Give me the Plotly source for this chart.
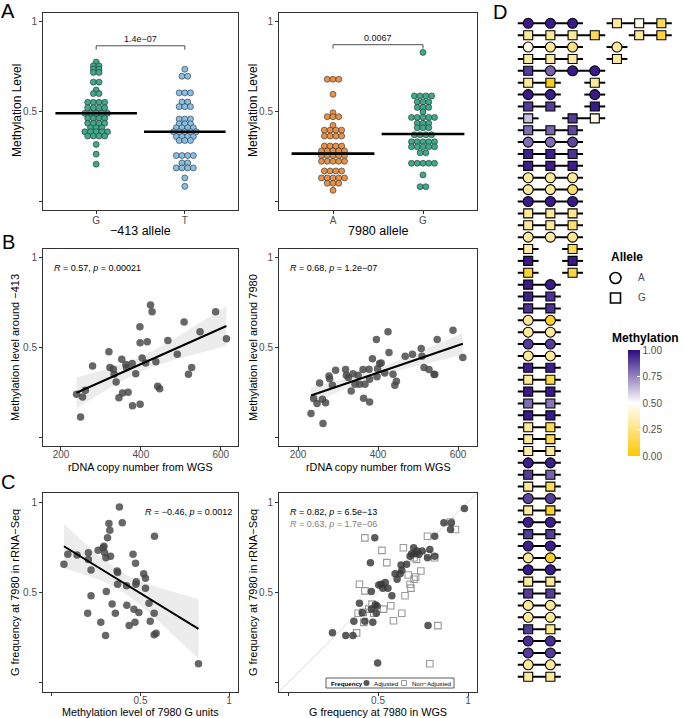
import numpy as np
import plotly.graph_objects as go

W, H = 684, 718
FONT = "Liberation Sans, Arial, Helvetica, sans-serif"
TICK_GRAY = "#4d4d4d"
FRAME = "#333333"


def fx(p):
    return p / W


def fy(p):
    return 1 - p / H


# ======================= DATA =======================
# ---- Panel A : dot plots (one value per dot) ----
a_left_groups = ["G", "T"]
meth_413_G = [0.776, 0.755, 0.755, 0.736, 0.736, 0.718, 0.718, 0.664, 0.664, 0.62,
              0.60, 0.60, 0.551, 0.551, 0.551, 0.551, 0.521, 0.521, 0.521, 0.521,
              0.49, 0.49, 0.49, 0.49, 0.49, 0.462, 0.462, 0.462, 0.462,
              0.434, 0.434, 0.434, 0.434, 0.409, 0.409, 0.409,
              0.387, 0.387, 0.387, 0.387, 0.387, 0.363, 0.363, 0.363, 0.363,
              0.316, 0.262, 0.206]
meth_413_T = [0.736, 0.697, 0.697, 0.604, 0.604, 0.604, 0.553, 0.553, 0.527, 0.527, 0.527,
              0.458, 0.458, 0.458, 0.431, 0.431, 0.431, 0.409, 0.409, 0.409, 0.409,
              0.387, 0.387, 0.387, 0.387, 0.387, 0.36, 0.36, 0.36, 0.36,
              0.338, 0.338, 0.338, 0.254, 0.254, 0.254, 0.254, 0.213, 0.213,
              0.185, 0.185, 0.185, 0.185, 0.129, 0.082]
a_right_groups = ["A", "G"]
meth_7980_A = [0.68, 0.68, 0.68, 0.596, 0.493, 0.471, 0.471, 0.471, 0.422,
               0.396, 0.396, 0.396, 0.396, 0.363, 0.363, 0.363, 0.363,
               0.307, 0.307, 0.307, 0.307, 0.28, 0.28, 0.28, 0.28, 0.28,
               0.254, 0.254, 0.254, 0.254, 0.254, 0.222, 0.222, 0.222, 0.222, 0.222,
               0.168, 0.168, 0.168, 0.168, 0.129, 0.129, 0.129, 0.129, 0.129,
               0.099, 0.099, 0.099, 0.06]
meth_7980_G = [0.83, 0.587, 0.587, 0.587, 0.587, 0.553, 0.553, 0.553, 0.523, 0.523, 0.523,
               0.497, 0.467, 0.467, 0.467, 0.467, 0.467, 0.434, 0.434, 0.434,
               0.409, 0.409, 0.409, 0.37, 0.37, 0.37, 0.37,
               0.331, 0.331, 0.331, 0.331, 0.331, 0.303, 0.303, 0.303, 0.303, 0.303,
               0.269, 0.269, 0.211, 0.211, 0.211, 0.211, 0.211, 0.146, 0.08, 0.08]
a_medians_left = [0.49, 0.387]
a_medians_right = [0.265, 0.374]
a_pvalues = ["1.4e\u221207", "0.0067"]
a_bracket_y = [0.867, 0.873]

# ---- Panel B : copy number vs methylation ----
b1_copy = [239, 254, 261, 249, 279, 320, 322.5, 331, 333, 338, 345, 352, 354, 362.5, 364,
           368, 378, 379, 387, 397.5, 398, 398, 403, 412, 416, 424, 428, 437.5, 442, 447,
           467.5, 491, 508, 527, 519, 548, 587, 614]
b1_meth = [0.239, 0.224, 0.261, 0.112, 0.397, 0.476, 0.388, 0.379, 0.351, 0.308, 0.22,
           0.435, 0.246, 0.405, 0.388, 0.25, 0.41, 0.175, 0.354, 0.616, 0.183, 0.526,
           0.442, 0.414, 0.532, 0.737, 0.7, 0.42, 0.284, 0.269, 0.539, 0.463, 0.642,
           0.388, 0.351, 0.588, 0.7, 0.549]
b2_copy = [232.5, 239, 247.5, 254, 261, 262.5, 269, 277.5, 279, 286, 294, 319, 321, 326,
           333, 337.5, 342.5, 350, 354, 362.5, 364, 367.5, 377.5, 379, 379, 386, 396,
           397.5, 399, 404, 408, 417, 425, 427.5, 437.5, 442, 446, 468, 486, 508, 510,
           515, 527.5, 540, 542, 548, 587.5, 612]
b2_meth = [0.131, 0.215, 0.187, 0.302, 0.211, 0.075, 0.192, 0.341, 0.326, 0.289, 0.373,
           0.377, 0.345, 0.332, 0.257, 0.354, 0.295, 0.345, 0.295, 0.377, 0.216, 0.295,
           0.379, 0.196, 0.323, 0.437, 0.545, 0.336, 0.382, 0.41, 0.414, 0.358, 0.588,
           0.472, 0.351, 0.289, 0.312, 0.451, 0.463, 0.494, 0.451, 0.388, 0.377, 0.351,
           0.349, 0.545, 0.597, 0.444]
b_stats = ["<i>R</i> = 0.57, <i>p</i> = 0.00021", "<i>R</i> = 0.68, <i>p</i> = 1.2e\u221207"]

# ---- Panel C ----
c1_meth = [0.068, 0.09, 0.142, 0.206, 0.206, 0.221, 0.221, 0.202, 0.261, 0.276, 0.289,
           0.294, 0.298, 0.303, 0.305, 0.307, 0.314, 0.322, 0.327, 0.331, 0.34, 0.358,
           0.368, 0.371, 0.371, 0.381, 0.397, 0.421, 0.423, 0.436, 0.458, 0.463, 0.469,
           0.472, 0.474, 0.476, 0.491, 0.518, 0.528, 0.528, 0.548, 0.555, 0.577, 0.577,
           0.579, 0.588, 0.827]
c1_gfreq = [0.656, 0.711, 0.707, 0.72, 0.683, 0.625, 0.482, 0.385, 0.734, 0.335, 0.747,
            0.756, 0.72, 0.262, 0.692, 0.505, 0.802, 0.881, 0.844, 0.701, 0.436, 0.385,
            0.619, 0.61, 0.546, 0.973, 0.885, 0.537, 0.43, 0.317, 0.711, 0.408, 0.335,
            0.661, 0.546, 0.559, 0.39, 0.604, 0.579, 0.524, 0.44, 0.341, 0.385, 0.267,
            0.811, 0.275, 0.106]
c1_stat = "<i>R</i> = \u22120.46, <i>p</i> = 0.0012"
c2_wgs_adj = [0.247, 0.321, 0.361, 0.366, 0.397, 0.412, 0.427, 0.458, 0.463, 0.463, 0.471,
              0.482, 0.485, 0.495, 0.491, 0.498, 0.504, 0.518, 0.527, 0.54, 0.555, 0.577,
              0.595, 0.606, 0.623, 0.628, 0.632, 0.659, 0.678, 0.687, 0.698, 0.705, 0.716,
              0.727, 0.745, 0.775, 0.778, 0.788, 0.815, 0.815, 0.866, 0.907, 0.903, 0.98]
c2_rna_adj = [0.277, 0.262, 0.262, 0.341, 0.441, 0.388, 0.341, 0.665, 0.505, 0.408, 0.335,
              0.802, 0.432, 0.425, 0.385, 0.11, 0.542, 0.546, 0.524, 0.555, 0.524, 0.482,
              0.604, 0.573, 0.604, 0.652, 0.623, 0.656, 0.701, 0.714, 0.747, 0.714, 0.729,
              0.711, 0.729, 0.692, 0.317, 0.738, 0.811, 0.701, 0.885, 0.885, 0.848, 0.965]
c2_wgs_raw = [0.427, 0.522, 0.549, 0.641, 0.775, 0.397, 0.427, 0.381, 0.39, 0.421, 0.467,
              0.476, 0.531, 0.571, 0.586, 0.632, 0.65, 0.678, 0.683, 0.668, 0.7, 0.709,
              0.738, 0.7, 0.714, 0.778, 0.815, 0.833, 0.788, 0.93, 0.903, 0.449, 0.418]
c2_rna_raw = [0.802, 0.733, 0.665, 0.747, 0.811, 0.546, 0.509, 0.277, 0.385, 0.335, 0.436,
              0.386, 0.408, 0.427, 0.344, 0.385, 0.482, 0.546, 0.524, 0.597, 0.573, 0.586,
              0.619, 0.692, 0.683, 0.711, 0.692, 0.317, 0.106, 0.848, 0.89, 0.408, 0.39]
c2_stats = ["<i>R</i> = 0.82, <i>p</i> = 6.5e\u221213", "<i>R</i> = 0.63, <i>p</i> = 1.7e\u221206"]

# ---- Panel D : single-molecule glyphs ----
d_row = [1, 1, 1, 1, 1, 1, 2, 2, 2, 2, 2, 2, 3, 3, 3, 3, 4, 4, 4, 4, 5, 5, 5, 5,
         6, 6, 6, 7, 7, 7, 8, 8, 8, 9, 9, 9, 10, 10, 10, 11, 11, 11, 12, 12, 12,
         13, 13, 13, 14, 14, 14, 15, 15, 15, 16, 16, 16, 17, 17, 17, 18, 18, 18,
         19, 19, 19, 20, 20, 21, 21, 22, 22, 23, 23, 24, 24, 25, 25, 26, 26, 27, 27,
         28, 28, 29, 29, 30, 30, 31, 31, 32, 32, 33, 33, 34, 34, 35, 35, 36, 36,
         37, 37, 38, 38, 39, 39, 40, 40, 41, 41, 42, 42, 43, 43, 44, 44, 45, 45,
         46, 46, 47, 47, 48, 48, 49, 49, 50, 50, 51, 51, 52, 52, 53, 53, 54, 54,
         55, 55, 56, 56]
d_col = [1, 2, 3, 5, 6, 7, 1, 2, 3, 4, 6, 7, 1, 2, 3, 5, 1, 2, 3, 5, 1, 2, 3, 4,
         1, 2, 4, 1, 2, 4, 1, 2, 4, 1, 3, 4, 1, 2, 3, 1, 2, 3, 1, 2, 3,
         1, 2, 3, 1, 2, 3, 1, 2, 3, 1, 2, 3, 1, 2, 3, 1, 2, 3,
         1, 2, 3, 1, 3, 1, 3, 1, 3, 1, 2, 1, 2, 1, 2, 1, 2, 1, 2,
         1, 2, 1, 2, 1, 2, 1, 2, 1, 2, 1, 2, 1, 2, 1, 2, 1, 2,
         1, 2, 1, 2, 1, 2, 1, 2, 1, 2, 1, 2, 1, 2, 1, 2, 1, 2,
         1, 2, 1, 2, 1, 2, 1, 2, 1, 2, 1, 2, 1, 2, 1, 2, 1, 2,
         1, 2, 1, 2]
d_allele = ["A", "A", "A", "G", "G", "G", "G", "G", "G", "G", "G", "G", "A", "A", "A", "A",
            "G", "G", "G", "G", "G", "A", "A", "A", "G", "G", "G", "A", "A", "A", "G", "G", "G",
            "G", "G", "G", "G", "G", "G", "A", "A", "A", "G", "G", "G", "G", "G", "G",
            "A", "A", "A", "A", "A", "A", "A", "A", "A", "G", "G", "G", "G", "G", "G",
            "A", "A", "A", "G", "G", "G", "G", "G", "G", "G", "A", "G", "G", "G", "G",
            "A", "A", "A", "A", "A", "A", "A", "A", "G", "G", "G", "G", "G", "G", "G", "G",
            "G", "G", "G", "G", "G", "G", "G", "G", "A", "A", "G", "G", "G", "G", "A", "A",
            "G", "G", "A", "A", "G", "G", "A", "A", "A", "A", "A", "A", "G", "G", "G", "G",
            "A", "A", "A", "A", "G", "G", "A", "A", "A", "A", "A", "A", "G", "G"]
d_meth = [0.97, 0.97, 0.97, 0.30, 0.45, 0.17, 0.30, 0.30, 0.30, 0.17, 0.30, 0.12,
          0.45, 0.30, 0.25, 0.30, 0.30, 0.30, 0.30, 0.30, 0.90, 0.82, 0.97, 0.97,
          0.30, 0.05, 0.30, 0.97, 0.97, 0.97, 0.90, 0.90, 0.97, 0.63, 0.90, 0.45,
          0.80, 0.82, 0.88, 0.80, 0.80, 0.88, 0.96, 0.96, 0.92, 0.96, 0.96, 0.96,
          0.30, 0.30, 0.30, 0.30, 0.30, 0.20, 0.97, 0.97, 0.97, 0.30, 0.30, 0.28,
          0.30, 0.30, 0.22, 0.30, 0.32, 0.28, 0.32, 0.15, 0.97, 0.97, 0.08, 0.12,
          0.97, 0.97, 0.96, 0.92, 0.92, 0.92, 0.30, 0.08, 0.30, 0.30, 0.90, 0.90,
          0.30, 0.30, 0.96, 0.96, 0.30, 0.15, 0.97, 0.97, 0.80, 0.78, 0.97, 0.97,
          0.30, 0.15, 0.30, 0.15, 0.32, 0.30, 0.96, 0.96, 0.90, 0.82, 0.30, 0.17,
          0.88, 0.90, 0.30, 0.08, 0.96, 0.96, 0.90, 0.90, 0.96, 0.96, 0.30, 0.08,
          0.97, 0.97, 0.30, 0.30, 0.90, 0.90, 0.30, 0.30, 0.30, 0.30, 0.90, 0.28,
          0.93, 0.93, 0.90, 0.90, 0.30, 0.30, 0.30, 0.30]
meth_ticks = [0, 0.25, 0.5, 0.75, 1]

# ======================= STYLE =======================
GREEN = "#3DAA8C"
ORANGE = "#E8914A"
BLUE = "#86BFE6"
PT = "rgba(70,70,70,0.82)"
RIBBON = "rgba(150,150,150,0.18)"

fig = go.Figure()

# panel pixel boxes: (x0, x1), (ytop, ybottom)
boxes = {
    1: ((43, 238), (13, 210)),
    2: ((279, 477), (13, 210)),
    3: ((43, 238), (249, 446)),
    4: ((279, 477), (249, 446)),
    5: ((43, 238), (493, 692)),
    6: ((279, 477), (493, 692)),
}


def axname(i, kind):
    return kind if i == 1 else f"{kind}{i}"


def frame_axis(dom, rng, tickvals, ticktext, standoff=0):
    return dict(domain=dom, range=rng, showline=True, mirror=True, linecolor=FRAME,
                linewidth=1, ticks="outside", ticklen=3, tickwidth=1, tickcolor=FRAME,
                tickmode="array", tickvals=tickvals, ticktext=ticktext,
                ticklabelstandoff=standoff,
                tickfont=dict(size=10, color=TICK_GRAY, family=FONT),
                showgrid=False, zeroline=False, automargin=False, fixedrange=True)


def dot_positions(values, center, step=0.064):
    xs, ys = [], []
    for v in sorted(set(values), reverse=True):
        n = values.count(v)
        for i in range(n):
            xs.append(center + (i - (n - 1) / 2) * step)
            ys.append(v)
    return xs, ys


def fit_band(x, y, t=2.02, npts=80):
    x = np.asarray(x, float)
    y = np.asarray(y, float)
    b1, b0 = np.polyfit(x, y, 1)
    xs = np.linspace(x.min(), x.max(), npts)
    yh = b0 + b1 * xs
    n = len(x)
    s = np.sqrt(np.sum((y - (b0 + b1 * x)) ** 2) / (n - 2))
    se = s * np.sqrt(1 / n + (xs - x.mean()) ** 2 / np.sum((x - x.mean()) ** 2))
    return xs, yh, yh - t * se, yh + t * se


yvals = [0, 0.5, 1]
ytext = ["", "0.5", "1"]
layout_axes = {}
for i, ((x0, x1), (yt, yb)) in boxes.items():
    if i in (1, 2):
        xr, xv, xt = [0.4, 2.6], [1, 2], (a_left_groups if i == 1 else a_right_groups)
    elif i == 3:
        xr, xv, xt = [155, 643], [200, 400, 600], ["200", "400", "600"]
    elif i == 4:
        xr, xv, xt = [152.5, 647.5], [200, 400, 600], ["200", "400", "600"]
    else:
        xr, xv, xt = [-0.05, 1.05], [0, 0.5, 1], ["", "0.5", "1"]
    xa = frame_axis([fx(x0), fx(x1)], xr, xv, xt, standoff=(-2 if i <= 2 else -4))
    xa["anchor"] = axname(i, "y")
    ya = frame_axis([fy(yb), fy(yt)], [-0.05, 1.05], yvals, ytext)
    ya["anchor"] = axname(i, "x")
    layout_axes[axname(i, "xaxis")] = xa
    layout_axes[axname(i, "yaxis")] = ya

# ---------- Panel A ----------
shapes = []
annotations = []
a_sets = [
    (1, [meth_413_G, meth_413_T], [GREEN, BLUE], a_medians_left),
    (2, [meth_7980_A, meth_7980_G], [ORANGE, GREEN], a_medians_right),
]
for k, (i, groups, cols, meds) in enumerate(a_sets):
    xa, ya = axname(i, "x"), axname(i, "y")
    for g, (vals, col) in enumerate(zip(groups, cols)):
        xs, ys = dot_positions(vals, g + 1)
        fig.add_trace(go.Scatter(x=xs, y=ys, mode="markers", xaxis=xa, yaxis=ya,
                                 marker=dict(size=6, color=col,
                                             line=dict(color="#2a2a2a", width=0.6)),
                                 hoverinfo="skip"))
        fig.add_trace(go.Scatter(x=[g + 1 - 0.46, g + 1 + 0.46], y=[meds[g], meds[g]],
                                 mode="lines", xaxis=xa, yaxis=ya,
                                 line=dict(color="black", width=2.6), hoverinfo="skip"))
    yb = a_bracket_y[k]
    shapes.append(dict(type="path", xref=xa, yref=ya,
                       path=f"M 1,{yb - 0.022} L 1,{yb} L 2,{yb} L 2,{yb - 0.022}",
                       line=dict(color="#222", width=0.8)))
    annotations.append(dict(x=1.5, y=yb + 0.036, xref=xa, yref=ya, text=a_pvalues[k],
                            showarrow=False, font=dict(size=9, color="#111", family=FONT)))

# ---------- Panel B ----------
for i, (cx, cy) in zip((3, 4), ((b1_copy, b1_meth), (b2_copy, b2_meth))):
    xa, ya = axname(i, "x"), axname(i, "y")
    xs, yh, lo, hi = fit_band(cx, cy)
    fig.add_trace(go.Scatter(x=np.concatenate([xs, xs[::-1]]), y=np.concatenate([hi, lo[::-1]]),
                             fill="toself", fillcolor=RIBBON, line=dict(width=0),
                             mode="lines", xaxis=xa, yaxis=ya, hoverinfo="skip"))
    fig.add_trace(go.Scatter(x=cx, y=cy, mode="markers", xaxis=xa, yaxis=ya,
                             marker=dict(size=7.5, color=PT), hoverinfo="skip"))
    fig.add_trace(go.Scatter(x=xs, y=yh, mode="lines", xaxis=xa, yaxis=ya,
                             line=dict(color="black", width=2), hoverinfo="skip"))

# ---------- Panel C left ----------
xs, yh, lo, hi = fit_band(c1_meth, c1_gfreq)
fig.add_trace(go.Scatter(x=np.concatenate([xs, xs[::-1]]), y=np.concatenate([hi, lo[::-1]]),
                         fill="toself", fillcolor=RIBBON, line=dict(width=0), mode="lines",
                         xaxis="x5", yaxis="y5", hoverinfo="skip"))
fig.add_trace(go.Scatter(x=c1_meth, y=c1_gfreq, mode="markers", xaxis="x5", yaxis="y5",
                         marker=dict(size=7.5, color=PT), hoverinfo="skip"))
fig.add_trace(go.Scatter(x=xs, y=yh, mode="lines", xaxis="x5", yaxis="y5",
                         line=dict(color="black", width=2), hoverinfo="skip"))

# ---------- Panel C right ----------
fig.add_trace(go.Scatter(x=[-0.05, 1.05], y=[-0.05, 1.05], mode="lines", xaxis="x6", yaxis="y6",
                         line=dict(color="#dcdcdc", width=1), hoverinfo="skip"))
fig.add_trace(go.Scatter(x=c2_wgs_raw, y=c2_rna_raw, mode="markers", xaxis="x6", yaxis="y6",
                         marker=dict(symbol="square-open", size=6.5, color="#9a9a9a",
                                     line=dict(width=1.1)), hoverinfo="skip"))
fig.add_trace(go.Scatter(x=c2_wgs_adj, y=c2_rna_adj, mode="markers", xaxis="x6", yaxis="y6",
                         marker=dict(size=7.5, color="rgba(55,55,55,0.82)"), hoverinfo="skip"))

# ---------- Panel D ----------
seg_x, seg_y = [], []
for r in sorted(set(d_row)):
    cols = sorted(c for rr, c in zip(d_row, d_col) if rr == r)
    start = prev = cols[0]
    for c in cols[1:] + [None]:
        if c is not None and c == prev + 1:
            prev = c
            continue
        seg_x += [start - 0.47, prev + 0.47, None]
        seg_y += [r, r, None]
        if c is not None:
            start = prev = c
fig.add_trace(go.Scatter(x=seg_x, y=seg_y, mode="lines", xaxis="x7", yaxis="y7",
                         line=dict(color="black", width=2), hoverinfo="skip"))
for allele, sym, size in (("A", "circle", 10), ("G", "square", 9)):
    idx = [j for j, a in enumerate(d_allele) if a == allele]
    fig.add_trace(go.Scatter(
        x=[d_col[j] for j in idx], y=[d_row[j] for j in idx], mode="markers",
        xaxis="x7", yaxis="y7", hoverinfo="skip",
        marker=dict(symbol=sym, size=size, color=[d_meth[j] for j in idx],
                    coloraxis="coloraxis", line=dict(color="black", width=1.1))))

layout_axes["xaxis7"] = dict(domain=[fx(506), fx(684)], range=[0, 8.02], visible=False,
                             anchor="y7", fixedrange=True)
layout_axes["yaxis7"] = dict(domain=[fy(690), fy(10)], range=[57.12, -0.12], visible=False,
                             anchor="x7", fixedrange=True)


# ---------- text ----------
def paper_text(x, y, text, size, color="black", angle=0, xanchor="center", bold=False):
    annotations.append(dict(x=fx(x), y=fy(y), xref="paper", yref="paper",
                            text=f"<b>{text}</b>" if bold else text, showarrow=False,
                            textangle=angle, xanchor=xanchor, yanchor="middle",
                            font=dict(size=size, color=color, family=FONT)))


for letter, (x, y) in zip("ABCD", [(8, 11), (8, 242), (8, 482), (500, 12)]):
    paper_text(x, y, letter, 20)

paper_text(17, 111, "Methylation Level", 12, angle=-90)
paper_text(253, 111, "Methylation Level", 12, angle=-90)
paper_text(140, 231, "\u2212413 allele", 12.5)
paper_text(378, 231, "7980 allele", 12.5)
paper_text(15, 348, "Methylation level around \u2212413", 11, angle=-90)
paper_text(253, 348, "Methylation level around 7980", 11, angle=-90)
paper_text(140, 467, "rDNA copy number from WGS", 10.8)
paper_text(378, 467, "rDNA copy number from WGS", 10.8)
paper_text(15, 593, "G frequency at 7980 in rRNA\u2212Seq", 11, angle=-90)
paper_text(253, 593, "G frequency at 7980 in rRNA\u2212Seq", 11, angle=-90)
paper_text(140, 711.5, "Methylation level of 7980 G units", 10.8)
paper_text(378, 711.5, "G frequency at 7980 in WGS", 10.8)

paper_text(52, 268, b_stats[0], 9, xanchor="left")
paper_text(288, 268, b_stats[1], 9, xanchor="left")
paper_text(234, 512, c1_stat, 9, xanchor="right")
paper_text(288, 512, c2_stats[0], 9, xanchor="left")
paper_text(288, 524, c2_stats[1], 9, color="#808080", xanchor="left")

# Frequency legend (panel C right)
shapes.append(dict(type="rect", xref="paper", yref="paper", x0=fx(326), x1=fx(454),
                   y0=fy(688), y1=fy(678), line=dict(color="#333", width=0.8),
                   fillcolor="white"))
paper_text(328.5, 683, "Frequency", 6.2, xanchor="left", bold=True)
shapes.append(dict(type="circle", xref="paper", yref="paper", x0=fx(363.5), x1=fx(369.5),
                   y0=fy(686), y1=fy(680), line=dict(width=0),
                   fillcolor="rgba(55,55,55,0.85)"))
paper_text(372, 683, "Adjusted", 6.2, xanchor="left")
shapes.append(dict(type="rect", xref="paper", yref="paper", x0=fx(401.5), x1=fx(406.5),
                   y0=fy(685.5), y1=fy(680.5), line=dict(color="#9a9a9a", width=1)))
paper_text(409.5, 683, "Non\u2212Adjusted", 6.2, xanchor="left")

# Allele legend
paper_text(609, 257, "Allele", 12, xanchor="left", bold=True)
shapes.append(dict(type="circle", xref="paper", yref="paper", x0=fx(610), x1=fx(621),
                   y0=fy(283.5), y1=fy(272.5), line=dict(color="black", width=1.6),
                   fillcolor="white"))
paper_text(636, 278, "A", 10, color=TICK_GRAY, xanchor="left")
shapes.append(dict(type="rect", xref="paper", yref="paper", x0=fx(610.5), x1=fx(620.5),
                   y0=fy(303), y1=fy(293), line=dict(color="black", width=1.6),
                   fillcolor="white"))
paper_text(636, 298, "G", 10, color=TICK_GRAY, xanchor="left")
paper_text(610, 338, "Methylation", 12, xanchor="left", bold=True)

fig.update_layout(
    width=W, height=H, autosize=False,
    margin=dict(l=0, r=0, t=0, b=0),
    paper_bgcolor="white", plot_bgcolor="white",
    showlegend=False,
    font=dict(family=FONT),
    shapes=shapes, annotations=annotations,
    coloraxis=dict(
        cmin=0, cmax=1,
        colorscale=[[0, "#FBC800"], [0.5, "#FFFFFF"], [1, "#2B0B80"]],
        colorbar=dict(x=fx(628), xanchor="left", xpad=0, ypad=0,
                      y=fy(403), yanchor="middle", len=106, lenmode="pixels",
                      thickness=12, thicknessmode="pixels", outlinewidth=0,
                      tickmode="array", tickvals=meth_ticks,
                      ticktext=[f"{v:.2f}" for v in meth_ticks],
                      ticks="inside", ticklen=3, tickcolor="white",
                      tickfont=dict(size=10, color=TICK_GRAY, family=FONT))),
    **layout_axes,
)

fig.write_html("out.html", config={"displayModeBar": False, "staticPlot": True},
               post_script="document.body.style.margin='0px';"
                           "document.body.style.overflow='hidden';")
